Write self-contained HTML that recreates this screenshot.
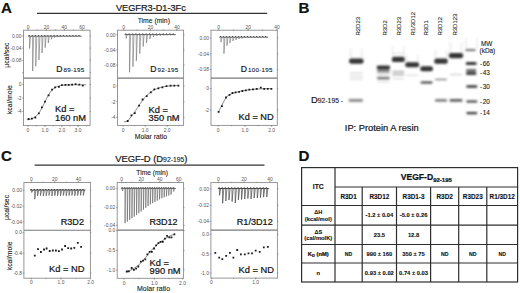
<!DOCTYPE html>
<html><head><meta charset="utf-8"><style>
html,body{margin:0;padding:0;background:#fff;}
svg{display:block;font-family:"Liberation Sans", sans-serif;}
text{stroke:#111;stroke-width:0.22px;}
text.t{stroke:none;}
text.s{stroke-width:0.1px;}
tspan.s{stroke-width:0.1px;}
</style></head><body>
<svg width="520" height="293" viewBox="0 0 520 293">
<defs><filter id="bl" x="-20%" y="-50%" width="140%" height="200%"><feGaussianBlur stdDeviation="1"/></filter>
<filter id="soft" x="0" y="0" width="520" height="293" filterUnits="userSpaceOnUse"><feConvolveMatrix order="3" kernelMatrix="1 2 1 2 20 2 1 2 1" divisor="32" edgeMode="duplicate"/></filter></defs>
<g>
<rect width="520" height="293" fill="#fff"/>
<text x="1.0" y="12.8" font-size="15.1" font-weight="bold" text-anchor="start" fill="#111" >A</text>
<line x1="37" y1="13.4" x2="267.2" y2="13.4" stroke="#333" stroke-width="1.2"/>
<text x="115.9" y="10.9" font-size="9.2" font-weight="normal" text-anchor="start" fill="#1a1a1a" >VEGFR3-D1-3Fc</text>
<text x="153.8" y="22.7" font-size="6.8" font-weight="normal" text-anchor="middle" fill="#222" class="s" >Time (min)</text>
<rect x="23.5" y="30.2" width="66.6" height="95.39999999999999" fill="none" stroke="#8c8c8c" stroke-width="0.9" />
<line x1="23.5" y1="78.1" x2="90.1" y2="78.1" stroke="#7a7a7a" stroke-width="1.1"/>
<text x="28.1" y="28.599999999999998" font-size="4.9" font-weight="normal" text-anchor="middle" fill="#555" class="t" >0</text>
<line x1="28.1" y1="28.9" x2="28.1" y2="30.599999999999998" stroke="#777" stroke-width="0.6"/>
<text x="46.4" y="28.599999999999998" font-size="4.9" font-weight="normal" text-anchor="middle" fill="#555" class="t" >20</text>
<line x1="46.4" y1="28.9" x2="46.4" y2="30.599999999999998" stroke="#777" stroke-width="0.6"/>
<text x="64.3" y="28.599999999999998" font-size="4.9" font-weight="normal" text-anchor="middle" fill="#555" class="t" >40</text>
<line x1="64.3" y1="28.9" x2="64.3" y2="30.599999999999998" stroke="#777" stroke-width="0.6"/>
<text x="82.1" y="28.599999999999998" font-size="4.9" font-weight="normal" text-anchor="middle" fill="#555" class="t" >60</text>
<line x1="82.1" y1="28.9" x2="82.1" y2="30.599999999999998" stroke="#777" stroke-width="0.6"/>
<text x="27.8" y="131.79999999999998" font-size="4.9" font-weight="normal" text-anchor="middle" fill="#555" class="t" >0</text>
<line x1="27.8" y1="125.19999999999999" x2="27.8" y2="126.89999999999999" stroke="#777" stroke-width="0.6"/>
<text x="45" y="131.79999999999998" font-size="4.9" font-weight="normal" text-anchor="middle" fill="#555" class="t" >1.0</text>
<line x1="45" y1="125.19999999999999" x2="45" y2="126.89999999999999" stroke="#777" stroke-width="0.6"/>
<text x="61.9" y="131.79999999999998" font-size="4.9" font-weight="normal" text-anchor="middle" fill="#555" class="t" >2.0</text>
<line x1="61.9" y1="125.19999999999999" x2="61.9" y2="126.89999999999999" stroke="#777" stroke-width="0.6"/>
<text x="78" y="131.79999999999998" font-size="4.9" font-weight="normal" text-anchor="middle" fill="#555" class="t" >3.0</text>
<line x1="78" y1="125.19999999999999" x2="78" y2="126.89999999999999" stroke="#777" stroke-width="0.6"/>
<line x1="37.2" y1="29.3" x2="37.2" y2="30.5" stroke="#777" stroke-width="0.5"/>
<line x1="46.3" y1="29.3" x2="46.3" y2="30.5" stroke="#777" stroke-width="0.5"/>
<line x1="55.4" y1="29.3" x2="55.4" y2="30.5" stroke="#777" stroke-width="0.5"/>
<line x1="64.5" y1="29.3" x2="64.5" y2="30.5" stroke="#777" stroke-width="0.5"/>
<line x1="73.6" y1="29.3" x2="73.6" y2="30.5" stroke="#777" stroke-width="0.5"/>
<line x1="82.7" y1="29.3" x2="82.7" y2="30.5" stroke="#777" stroke-width="0.5"/>
<line x1="36.4" y1="125.3" x2="36.4" y2="126.5" stroke="#777" stroke-width="0.5"/>
<line x1="44.8" y1="125.3" x2="44.8" y2="126.5" stroke="#777" stroke-width="0.5"/>
<line x1="53.2" y1="125.3" x2="53.2" y2="126.5" stroke="#777" stroke-width="0.5"/>
<line x1="61.6" y1="125.3" x2="61.6" y2="126.5" stroke="#777" stroke-width="0.5"/>
<line x1="70.0" y1="125.3" x2="70.0" y2="126.5" stroke="#777" stroke-width="0.5"/>
<line x1="78.4" y1="125.3" x2="78.4" y2="126.5" stroke="#777" stroke-width="0.5"/>
<line x1="86.8" y1="125.3" x2="86.8" y2="126.5" stroke="#777" stroke-width="0.5"/>
<text x="21.5" y="37.6" font-size="4.9" font-weight="normal" text-anchor="end" fill="#555" class="t" >0.00</text>
<line x1="22.2" y1="35.9" x2="23.9" y2="35.9" stroke="#777" stroke-width="0.6"/>
<line x1="89.69999999999999" y1="35.9" x2="91.1" y2="35.9" stroke="#777" stroke-width="0.6"/>
<text x="21.5" y="49.800000000000004" font-size="4.9" font-weight="normal" text-anchor="end" fill="#555" class="t" >-0.04</text>
<line x1="22.2" y1="48.1" x2="23.9" y2="48.1" stroke="#777" stroke-width="0.6"/>
<line x1="89.69999999999999" y1="48.1" x2="91.1" y2="48.1" stroke="#777" stroke-width="0.6"/>
<text x="21.5" y="62.0" font-size="4.9" font-weight="normal" text-anchor="end" fill="#555" class="t" >-0.08</text>
<line x1="22.2" y1="60.3" x2="23.9" y2="60.3" stroke="#777" stroke-width="0.6"/>
<line x1="89.69999999999999" y1="60.3" x2="91.1" y2="60.3" stroke="#777" stroke-width="0.6"/>
<text x="21.5" y="74.2" font-size="4.9" font-weight="normal" text-anchor="end" fill="#555" class="t" ></text>
<line x1="22.2" y1="72.5" x2="23.9" y2="72.5" stroke="#777" stroke-width="0.6"/>
<line x1="89.69999999999999" y1="72.5" x2="91.1" y2="72.5" stroke="#777" stroke-width="0.6"/>
<text x="21.5" y="86.2" font-size="4.9" font-weight="normal" text-anchor="end" fill="#555" class="t" >0</text>
<line x1="22.2" y1="84.5" x2="23.9" y2="84.5" stroke="#777" stroke-width="0.6"/>
<line x1="89.69999999999999" y1="84.5" x2="91.1" y2="84.5" stroke="#777" stroke-width="0.6"/>
<text x="21.5" y="99.9" font-size="4.9" font-weight="normal" text-anchor="end" fill="#555" class="t" >-2</text>
<line x1="22.2" y1="98.2" x2="23.9" y2="98.2" stroke="#777" stroke-width="0.6"/>
<line x1="89.69999999999999" y1="98.2" x2="91.1" y2="98.2" stroke="#777" stroke-width="0.6"/>
<text x="21.5" y="113.2" font-size="4.9" font-weight="normal" text-anchor="end" fill="#555" class="t" >-4</text>
<line x1="22.2" y1="111.5" x2="23.9" y2="111.5" stroke="#777" stroke-width="0.6"/>
<line x1="89.69999999999999" y1="111.5" x2="91.1" y2="111.5" stroke="#777" stroke-width="0.6"/>
<polyline points="27.90,36.20 28.90,36.20 29.15,35.20 29.40,36.20 32.02,36.20 32.27,35.20 32.52,36.20 35.14,36.20 35.39,35.20 35.64,36.20 38.26,36.20 38.51,35.20 38.76,36.20 41.38,36.20 41.63,35.20 41.88,36.20 44.50,36.20 44.75,35.20 45.00,36.20 47.62,36.20 47.87,35.20 48.12,36.20 50.74,36.20 50.99,35.20 51.24,36.20 53.86,36.20 54.11,35.20 54.36,36.20 56.98,36.20 57.23,35.20 57.48,36.20 60.10,36.20 60.35,35.20 60.60,36.20 63.22,36.20 63.47,35.20 63.72,36.20 66.34,36.20 66.59,35.20 66.84,36.20 69.46,36.20 69.71,35.20 69.96,36.20 72.58,36.20 72.83,35.20 73.08,36.20 75.70,36.20 75.95,35.20 76.20,36.20 78.82,36.20 79.07,35.20 79.32,36.20 81.52,36.20" fill="none" stroke="#2a2a2a" stroke-width="0.75" stroke-linejoin="round" />
<path d="M29.40,36.20 L29.55,48.50 L30.60,36.20 M32.52,36.20 L32.67,71.00 L33.72,36.20 M35.64,36.20 L35.79,66.20 L36.84,36.20 M38.76,36.20 L38.91,60.00 L39.96,36.20 M41.88,36.20 L42.03,53.00 L43.08,36.20 M45.00,36.20 L45.15,47.70 L46.20,36.20 M48.12,36.20 L48.27,43.00 L49.32,36.20 M51.24,36.20 L51.39,39.30 L52.44,36.20 M54.36,36.20 L54.51,37.60 L55.56,36.20 M57.48,36.20 L57.63,37.00 L58.68,36.20 M60.60,36.20 L60.75,36.80 L61.80,36.20 M63.72,36.20 L63.87,36.60 L64.92,36.20 M66.84,36.20 L66.99,36.50 L68.04,36.20 M69.96,36.20 L70.11,36.50 L71.16,36.20 M73.08,36.20 L73.23,36.40 L74.28,36.20 M76.20,36.20 L76.35,36.40 L77.40,36.20 M79.32,36.20 L79.47,36.40 L80.52,36.20 " fill="none" stroke="#666" stroke-width="0.55" stroke-linejoin="miter"/>
<polyline points="27.00,119.78 27.50,119.71 28.00,119.64 28.50,119.55 29.00,119.45 29.50,119.35 30.00,119.22 30.50,119.09 31.00,118.94 31.50,118.77 32.00,118.59 32.50,118.38 33.00,118.15 33.50,117.89 34.00,117.61 34.50,117.30 35.00,116.96 35.50,116.58 36.00,116.17 36.50,115.72 37.00,115.22 37.50,114.69 38.00,114.11 38.50,113.48 39.00,112.81 39.50,112.09 40.00,111.33 40.50,110.51 41.00,109.66 41.50,108.76 42.00,107.83 42.50,106.86 43.00,105.87 43.50,104.85 44.00,103.82 44.50,102.78 45.00,101.74 45.50,100.71 46.00,99.68 46.50,98.68 47.00,97.70 47.50,96.75 48.00,95.84 48.50,94.97 49.00,94.14 49.50,93.35 50.00,92.61 50.50,91.92 51.00,91.27 51.50,90.67 52.00,90.12 52.50,89.61 53.00,89.14 53.50,88.71 54.00,88.31 54.50,87.96 55.00,87.63 55.50,87.34 56.00,87.07 56.50,86.83 57.00,86.61 57.50,86.42 58.00,86.24 58.50,86.08 59.00,85.94 59.50,85.82 60.00,85.70 60.50,85.60 61.00,85.51 61.50,85.43 62.00,85.36 62.50,85.29 63.00,85.23 63.50,85.18 64.00,85.14 64.50,85.09 65.00,85.06 65.50,85.03 66.00,85.00 66.50,84.97 67.00,84.95 67.50,84.93 68.00,84.91 68.50,84.89 69.00,84.88 69.50,84.86 70.00,84.85 70.50,84.84 71.00,84.83 71.50,84.83 72.00,84.82 72.50,84.81 73.00,84.81 73.50,84.80 74.00,84.80 74.50,84.79 75.00,84.79 75.50,84.79 76.00,84.78 76.50,84.78 77.00,84.78 77.50,84.78 78.00,84.77 78.50,84.77 79.00,84.77 79.50,84.77 80.00,84.77 80.50,84.77 81.00,84.77 81.50,84.77 82.00,84.77 82.50,84.76 83.00,84.76 83.50,84.76 84.00,84.76 84.50,84.76 85.00,84.76 85.50,84.76 86.00,84.76" fill="none" stroke="#333" stroke-width="0.6" stroke-linejoin="round" />
<path d="M27.70,118.10h1.8v1.8h-1.8zM31.00,117.70h1.8v1.8h-1.8zM34.40,116.60h1.8v1.8h-1.8zM37.90,112.50h1.8v1.8h-1.8zM41.00,106.40h1.8v1.8h-1.8zM44.10,100.70h1.8v1.8h-1.8zM47.70,94.50h1.8v1.8h-1.8zM51.20,88.80h1.8v1.8h-1.8zM54.30,86.40h1.8v1.8h-1.8zM58.00,86.00h1.8v1.8h-1.8zM61.00,84.30h1.8v1.8h-1.8zM64.50,83.90h1.8v1.8h-1.8zM67.80,83.90h1.8v1.8h-1.8zM71.20,83.70h1.8v1.8h-1.8zM74.70,83.30h1.8v1.8h-1.8zM78.40,83.70h1.8v1.8h-1.8zM81.90,84.70h1.8v1.8h-1.8z" fill="#1a1a1a"/>
<text x="56.3" y="71.8" fill="#1a1a1a"><tspan font-size="8.6">D</tspan><tspan class="s" font-size="6.2" dx="1.0" letter-spacing="0.3">89-195</tspan></text>
<text x="55.0" y="112.4" font-size="9.3" font-weight="normal" text-anchor="start" fill="#111" >Kd =</text>
<text x="55.0" y="120.8" font-size="9.3" font-weight="normal" text-anchor="start" fill="#111" >160 nM</text>
<rect x="117.5" y="30.2" width="66.1" height="95.2" fill="none" stroke="#8c8c8c" stroke-width="0.9" />
<line x1="117.5" y1="78.1" x2="183.6" y2="78.1" stroke="#7a7a7a" stroke-width="1.1"/>
<text x="123.6" y="28.599999999999998" font-size="4.9" font-weight="normal" text-anchor="middle" fill="#555" class="t" >0</text>
<line x1="123.6" y1="28.9" x2="123.6" y2="30.599999999999998" stroke="#777" stroke-width="0.6"/>
<text x="150.4" y="28.599999999999998" font-size="4.9" font-weight="normal" text-anchor="middle" fill="#555" class="t" >20</text>
<line x1="150.4" y1="28.9" x2="150.4" y2="30.599999999999998" stroke="#777" stroke-width="0.6"/>
<text x="177" y="28.599999999999998" font-size="4.9" font-weight="normal" text-anchor="middle" fill="#555" class="t" >40</text>
<line x1="177" y1="28.9" x2="177" y2="30.599999999999998" stroke="#777" stroke-width="0.6"/>
<text x="123.2" y="131.6" font-size="4.9" font-weight="normal" text-anchor="middle" fill="#555" class="t" >0</text>
<line x1="123.2" y1="125.0" x2="123.2" y2="126.7" stroke="#777" stroke-width="0.6"/>
<text x="145.2" y="131.6" font-size="4.9" font-weight="normal" text-anchor="middle" fill="#555" class="t" >1.0</text>
<line x1="145.2" y1="125.0" x2="145.2" y2="126.7" stroke="#777" stroke-width="0.6"/>
<text x="167.2" y="131.6" font-size="4.9" font-weight="normal" text-anchor="middle" fill="#555" class="t" >2.0</text>
<line x1="167.2" y1="125.0" x2="167.2" y2="126.7" stroke="#777" stroke-width="0.6"/>
<line x1="137" y1="29.3" x2="137" y2="30.5" stroke="#777" stroke-width="0.5"/>
<line x1="150.3" y1="29.3" x2="150.3" y2="30.5" stroke="#777" stroke-width="0.5"/>
<line x1="163.6" y1="29.3" x2="163.6" y2="30.5" stroke="#777" stroke-width="0.5"/>
<line x1="176.9" y1="29.3" x2="176.9" y2="30.5" stroke="#777" stroke-width="0.5"/>
<line x1="134.2" y1="125.10000000000001" x2="134.2" y2="126.30000000000001" stroke="#777" stroke-width="0.5"/>
<line x1="145.2" y1="125.10000000000001" x2="145.2" y2="126.30000000000001" stroke="#777" stroke-width="0.5"/>
<line x1="156.2" y1="125.10000000000001" x2="156.2" y2="126.30000000000001" stroke="#777" stroke-width="0.5"/>
<line x1="167.2" y1="125.10000000000001" x2="167.2" y2="126.30000000000001" stroke="#777" stroke-width="0.5"/>
<line x1="178.2" y1="125.10000000000001" x2="178.2" y2="126.30000000000001" stroke="#777" stroke-width="0.5"/>
<text x="115.5" y="36.5" font-size="4.9" font-weight="normal" text-anchor="end" fill="#555" class="t" >0.00</text>
<line x1="116.2" y1="34.8" x2="117.9" y2="34.8" stroke="#777" stroke-width="0.6"/>
<line x1="183.2" y1="34.8" x2="184.6" y2="34.8" stroke="#777" stroke-width="0.6"/>
<text x="115.5" y="51.6" font-size="4.9" font-weight="normal" text-anchor="end" fill="#555" class="t" >-0.04</text>
<line x1="116.2" y1="49.9" x2="117.9" y2="49.9" stroke="#777" stroke-width="0.6"/>
<line x1="183.2" y1="49.9" x2="184.6" y2="49.9" stroke="#777" stroke-width="0.6"/>
<text x="115.5" y="66.60000000000001" font-size="4.9" font-weight="normal" text-anchor="end" fill="#555" class="t" >-0.08</text>
<line x1="116.2" y1="64.9" x2="117.9" y2="64.9" stroke="#777" stroke-width="0.6"/>
<line x1="183.2" y1="64.9" x2="184.6" y2="64.9" stroke="#777" stroke-width="0.6"/>
<text x="115.5" y="87.9" font-size="4.9" font-weight="normal" text-anchor="end" fill="#555" class="t" >0</text>
<line x1="116.2" y1="86.2" x2="117.9" y2="86.2" stroke="#777" stroke-width="0.6"/>
<line x1="183.2" y1="86.2" x2="184.6" y2="86.2" stroke="#777" stroke-width="0.6"/>
<text x="115.5" y="103.5" font-size="4.9" font-weight="normal" text-anchor="end" fill="#555" class="t" >-2</text>
<line x1="116.2" y1="101.8" x2="117.9" y2="101.8" stroke="#777" stroke-width="0.6"/>
<line x1="183.2" y1="101.8" x2="184.6" y2="101.8" stroke="#777" stroke-width="0.6"/>
<text x="115.5" y="119.10000000000001" font-size="4.9" font-weight="normal" text-anchor="end" fill="#555" class="t" >-4</text>
<line x1="116.2" y1="117.4" x2="117.9" y2="117.4" stroke="#777" stroke-width="0.6"/>
<line x1="183.2" y1="117.4" x2="184.6" y2="117.4" stroke="#777" stroke-width="0.6"/>
<polyline points="124.50,34.60 125.50,34.60 125.75,33.60 126.00,34.60 128.90,34.60 129.15,33.60 129.40,34.60 132.30,34.60 132.55,33.60 132.80,34.60 135.70,34.60 135.95,33.60 136.20,34.60 139.10,34.60 139.35,33.60 139.60,34.60 142.50,34.60 142.75,33.60 143.00,34.60 145.90,34.60 146.15,33.60 146.40,34.60 149.30,34.60 149.55,33.60 149.80,34.60 152.70,34.60 152.95,33.60 153.20,34.60 156.10,34.60 156.35,33.60 156.60,34.60 159.50,34.60 159.75,33.60 160.00,34.60 162.90,34.60 163.15,33.60 163.40,34.60 166.30,34.60 166.55,33.60 166.80,34.60 169.70,34.60 169.95,33.60 170.20,34.60 173.10,34.60 173.35,33.60 173.60,34.60 175.80,34.60" fill="none" stroke="#2a2a2a" stroke-width="0.75" stroke-linejoin="round" />
<path d="M126.00,34.60 L126.15,38.60 L127.20,34.60 M129.40,34.60 L129.55,72.30 L130.60,34.60 M132.80,34.60 L132.95,66.70 L134.00,34.60 M136.20,34.60 L136.35,60.80 L137.40,34.60 M139.60,34.60 L139.75,53.70 L140.80,34.60 M143.00,34.60 L143.15,46.60 L144.20,34.60 M146.40,34.60 L146.55,43.00 L147.60,34.60 M149.80,34.60 L149.95,39.00 L151.00,34.60 M153.20,34.60 L153.35,37.00 L154.40,34.60 M156.60,34.60 L156.75,36.00 L157.80,34.60 M160.00,34.60 L160.15,35.60 L161.20,34.60 M163.40,34.60 L163.55,35.30 L164.60,34.60 M166.80,34.60 L166.95,35.10 L168.00,34.60 M170.20,34.60 L170.35,35.00 L171.40,34.60 M173.60,34.60 L173.75,35.00 L174.80,34.60 " fill="none" stroke="#666" stroke-width="0.55" stroke-linejoin="miter"/>
<polyline points="123.80,121.80 124.21,121.74 124.79,121.70 125.46,121.64 126.19,121.51 126.92,121.27 127.60,120.90 128.24,120.35 128.87,119.65 129.51,118.84 130.15,117.99 130.78,117.12 131.40,116.30 132.01,115.53 132.60,114.76 133.19,113.99 133.78,113.20 134.38,112.37 135.00,111.50 135.64,110.57 136.30,109.58 136.97,108.56 137.65,107.52 138.33,106.50 139.00,105.50 139.67,104.52 140.33,103.53 141.00,102.56 141.67,101.60 142.33,100.68 143.00,99.80 143.67,98.97 144.33,98.17 145.00,97.41 145.67,96.67 146.33,95.97 147.00,95.30 147.67,94.66 148.33,94.05 149.00,93.47 149.67,92.92 150.33,92.40 151.00,91.90 151.67,91.43 152.33,91.00 153.00,90.59 153.67,90.20 154.33,89.84 155.00,89.50 155.67,89.18 156.33,88.89 157.00,88.61 157.67,88.36 158.33,88.12 159.00,87.90 159.66,87.70 160.30,87.51 160.94,87.35 161.59,87.20 162.28,87.05 163.00,86.90 163.76,86.75 164.56,86.60 165.38,86.46 166.22,86.33 167.10,86.21 168.00,86.10 168.95,86.01 169.96,85.93 171.00,85.86 172.04,85.80 173.05,85.74 174.00,85.70 174.95,85.66 175.93,85.64 176.88,85.62 177.74,85.61 178.47,85.61 179.00,85.60" fill="none" stroke="#333" stroke-width="0.6" stroke-linejoin="round" />
<path d="M126.80,120.10h1.8v1.8h-1.8zM130.50,114.40h1.8v1.8h-1.8zM133.90,112.30h1.8v1.8h-1.8zM138.20,104.80h1.8v1.8h-1.8zM141.70,98.60h1.8v1.8h-1.8zM145.80,95.20h1.8v1.8h-1.8zM149.90,91.50h1.8v1.8h-1.8zM153.40,88.40h1.8v1.8h-1.8zM157.50,87.40h1.8v1.8h-1.8zM161.50,86.40h1.8v1.8h-1.8zM165.60,85.30h1.8v1.8h-1.8zM169.70,84.70h1.8v1.8h-1.8zM173.40,84.70h1.8v1.8h-1.8zM177.50,84.70h1.8v1.8h-1.8z" fill="#1a1a1a"/>
<text x="150.2" y="71.8" fill="#1a1a1a"><tspan font-size="8.6">D</tspan><tspan class="s" font-size="6.2" dx="1.0" letter-spacing="0.3">92-195</tspan></text>
<text x="148.6" y="112.5" font-size="9.3" font-weight="normal" text-anchor="start" fill="#111" >Kd =</text>
<text x="148.6" y="120.8" font-size="9.3" font-weight="normal" text-anchor="start" fill="#111" >350 nM</text>
<text x="150.9" y="139.3" font-size="6.8" font-weight="normal" text-anchor="middle" fill="#222" class="s" >Molar ratio</text>
<rect x="211.0" y="30.2" width="66.30000000000001" height="95.2" fill="none" stroke="#8c8c8c" stroke-width="0.9" />
<line x1="211.0" y1="78.1" x2="277.3" y2="78.1" stroke="#7a7a7a" stroke-width="1.1"/>
<text x="218.7" y="28.599999999999998" font-size="4.9" font-weight="normal" text-anchor="middle" fill="#555" class="t" >0</text>
<line x1="218.7" y1="28.9" x2="218.7" y2="30.599999999999998" stroke="#777" stroke-width="0.6"/>
<text x="248.2" y="28.599999999999998" font-size="4.9" font-weight="normal" text-anchor="middle" fill="#555" class="t" >20</text>
<line x1="248.2" y1="28.9" x2="248.2" y2="30.599999999999998" stroke="#777" stroke-width="0.6"/>
<text x="277" y="28.599999999999998" font-size="4.9" font-weight="normal" text-anchor="middle" fill="#555" class="t" >40</text>
<line x1="277" y1="28.9" x2="277" y2="30.599999999999998" stroke="#777" stroke-width="0.6"/>
<text x="218.2" y="131.6" font-size="4.9" font-weight="normal" text-anchor="middle" fill="#555" class="t" >0</text>
<line x1="218.2" y1="125.0" x2="218.2" y2="126.7" stroke="#777" stroke-width="0.6"/>
<text x="245" y="131.6" font-size="4.9" font-weight="normal" text-anchor="middle" fill="#555" class="t" >1.0</text>
<line x1="245" y1="125.0" x2="245" y2="126.7" stroke="#777" stroke-width="0.6"/>
<text x="271.6" y="131.6" font-size="4.9" font-weight="normal" text-anchor="middle" fill="#555" class="t" >2.0</text>
<line x1="271.6" y1="125.0" x2="271.6" y2="126.7" stroke="#777" stroke-width="0.6"/>
<line x1="233.5" y1="29.3" x2="233.5" y2="30.5" stroke="#777" stroke-width="0.5"/>
<line x1="248.0" y1="29.3" x2="248.0" y2="30.5" stroke="#777" stroke-width="0.5"/>
<line x1="262.5" y1="29.3" x2="262.5" y2="30.5" stroke="#777" stroke-width="0.5"/>
<line x1="277.0" y1="29.3" x2="277.0" y2="30.5" stroke="#777" stroke-width="0.5"/>
<line x1="231.6" y1="125.10000000000001" x2="231.6" y2="126.30000000000001" stroke="#777" stroke-width="0.5"/>
<line x1="245.0" y1="125.10000000000001" x2="245.0" y2="126.30000000000001" stroke="#777" stroke-width="0.5"/>
<line x1="258.4" y1="125.10000000000001" x2="258.4" y2="126.30000000000001" stroke="#777" stroke-width="0.5"/>
<line x1="271.8" y1="125.10000000000001" x2="271.8" y2="126.30000000000001" stroke="#777" stroke-width="0.5"/>
<text x="209.0" y="39.7" font-size="4.9" font-weight="normal" text-anchor="end" fill="#555" class="t" >0.00</text>
<line x1="209.7" y1="38" x2="211.4" y2="38" stroke="#777" stroke-width="0.6"/>
<line x1="276.90000000000003" y1="38" x2="278.3" y2="38" stroke="#777" stroke-width="0.6"/>
<text x="209.0" y="55.5" font-size="4.9" font-weight="normal" text-anchor="end" fill="#555" class="t" >-0.04</text>
<line x1="209.7" y1="53.8" x2="211.4" y2="53.8" stroke="#777" stroke-width="0.6"/>
<line x1="276.90000000000003" y1="53.8" x2="278.3" y2="53.8" stroke="#777" stroke-width="0.6"/>
<text x="209.0" y="71.3" font-size="4.9" font-weight="normal" text-anchor="end" fill="#555" class="t" >-0.08</text>
<line x1="209.7" y1="69.6" x2="211.4" y2="69.6" stroke="#777" stroke-width="0.6"/>
<line x1="276.90000000000003" y1="69.6" x2="278.3" y2="69.6" stroke="#777" stroke-width="0.6"/>
<text x="209.0" y="90.3" font-size="4.9" font-weight="normal" text-anchor="end" fill="#555" class="t" >0</text>
<line x1="209.7" y1="88.6" x2="211.4" y2="88.6" stroke="#777" stroke-width="0.6"/>
<line x1="276.90000000000003" y1="88.6" x2="278.3" y2="88.6" stroke="#777" stroke-width="0.6"/>
<text x="209.0" y="111.7" font-size="4.9" font-weight="normal" text-anchor="end" fill="#555" class="t" >-2</text>
<line x1="209.7" y1="110" x2="211.4" y2="110" stroke="#777" stroke-width="0.6"/>
<line x1="276.90000000000003" y1="110" x2="278.3" y2="110" stroke="#777" stroke-width="0.6"/>
<polyline points="219.30,37.20 220.30,37.20 220.55,36.20 220.80,37.20 223.30,37.20 223.55,36.20 223.80,37.20 226.30,37.20 226.55,36.20 226.80,37.20 229.30,37.20 229.55,36.20 229.80,37.20 232.30,37.20 232.55,36.20 232.80,37.20 235.30,37.20 235.55,36.20 235.80,37.20 238.30,37.20 238.55,36.20 238.80,37.20 241.30,37.20 241.55,36.20 241.80,37.20 244.30,37.20 244.55,36.20 244.80,37.20 247.30,37.20 247.55,36.20 247.80,37.20 250.30,37.20 250.55,36.20 250.80,37.20 253.30,37.20 253.55,36.20 253.80,37.20 256.30,37.20 256.55,36.20 256.80,37.20 259.30,37.20 259.55,36.20 259.80,37.20 262.30,37.20 262.55,36.20 262.80,37.20 265.30,37.20 265.55,36.20 265.80,37.20 268.00,37.20" fill="none" stroke="#2a2a2a" stroke-width="0.75" stroke-linejoin="round" />
<path d="M220.80,37.20 L220.95,42.20 L222.00,37.20 M223.80,37.20 L223.95,53.70 L225.00,37.20 M226.80,37.20 L226.95,45.70 L228.00,37.20 M229.80,37.20 L229.95,43.00 L231.00,37.20 M232.80,37.20 L232.95,41.00 L234.00,37.20 M235.80,37.20 L235.95,40.00 L237.00,37.20 M238.80,37.20 L238.95,39.00 L240.00,37.20 M241.80,37.20 L241.95,38.50 L243.00,37.20 M244.80,37.20 L244.95,38.00 L246.00,37.20 M247.80,37.20 L247.95,37.80 L249.00,37.20 M250.80,37.20 L250.95,37.60 L252.00,37.20 M253.80,37.20 L253.95,37.50 L255.00,37.20 M256.80,37.20 L256.95,37.40 L258.00,37.20 M259.80,37.20 L259.95,37.40 L261.00,37.20 M262.80,37.20 L262.95,37.30 L264.00,37.20 M265.80,37.20 L265.95,37.30 L267.00,37.20 " fill="none" stroke="#666" stroke-width="0.55" stroke-linejoin="miter"/>
<polyline points="218.60,111.80 218.96,111.06 219.46,110.05 220.05,108.85 220.70,107.55 221.36,106.24 222.00,105.00 222.63,103.78 223.29,102.49 223.96,101.18 224.64,99.93 225.33,98.78 226.00,97.80 226.64,97.01 227.26,96.37 227.88,95.83 228.52,95.37 229.22,94.94 230.00,94.50 230.85,94.08 231.74,93.71 232.69,93.37 233.70,93.05 234.80,92.73 236.00,92.40 237.31,92.05 238.74,91.70 240.25,91.34 241.81,91.00 243.41,90.69 245.00,90.40 246.61,90.15 248.26,89.91 249.94,89.71 251.63,89.52 253.32,89.35 255.00,89.20 256.70,89.07 258.44,88.97 260.19,88.88 261.89,88.81 263.51,88.75 265.00,88.70 266.42,88.66 267.81,88.63 269.12,88.62 270.30,88.61 271.27,88.61 272.00,88.60" fill="none" stroke="#333" stroke-width="0.6" stroke-linejoin="round" />
<path d="M217.70,110.90h1.8v1.8h-1.8zM221.00,105.20h1.8v1.8h-1.8zM225.10,96.60h1.8v1.8h-1.8zM228.60,93.90h1.8v1.8h-1.8zM231.60,92.10h1.8v1.8h-1.8zM234.70,91.50h1.8v1.8h-1.8zM238.20,90.90h1.8v1.8h-1.8zM241.50,90.10h1.8v1.8h-1.8zM244.90,89.40h1.8v1.8h-1.8zM248.40,88.80h1.8v1.8h-1.8zM252.10,88.40h1.8v1.8h-1.8zM255.80,88.00h1.8v1.8h-1.8zM259.90,86.80h1.8v1.8h-1.8zM263.30,88.00h1.8v1.8h-1.8zM266.80,88.00h1.8v1.8h-1.8zM270.50,88.00h1.8v1.8h-1.8z" fill="#1a1a1a"/>
<text x="240.8" y="71.8" fill="#1a1a1a"><tspan font-size="8.6">D</tspan><tspan class="s" font-size="6.2" dx="1.0" letter-spacing="0.3">100-195</tspan></text>
<text x="238.6" y="119.9" font-size="9.2" font-weight="normal" text-anchor="start" fill="#111" >Kd = ND</text>
<text x="0" y="0" font-size="6.8" font-weight="normal" text-anchor="middle" fill="#222" class="s" transform="translate(8.7,55.1) rotate(-90)">µcal/sec</text>
<text x="0" y="0" font-size="6.9" font-weight="normal" text-anchor="middle" fill="#222" class="s" transform="translate(12.3,99.6) rotate(-90)">kcal/mole</text>
<text x="0" y="0" font-size="6.8" font-weight="normal" text-anchor="middle" fill="#222" class="s" transform="translate(8.9,207.5) rotate(-90)">µcal/sec</text>
<text x="0" y="0" font-size="6.8" font-weight="normal" text-anchor="middle" fill="#222" class="s" transform="translate(12.2,255.9) rotate(-90)">kcal/mole</text>
<text x="1.0" y="161.0" font-size="15.1" font-weight="bold" text-anchor="start" fill="#111" >C</text>
<line x1="34.6" y1="165.2" x2="264.5" y2="165.2" stroke="#333" stroke-width="1.2"/>
<text x="151.3" y="161.9" text-anchor="middle" fill="#1a1a1a" font-size="9.4">VEGF-D (<tspan>D</tspan><tspan class="s" font-size="6.8">92-195</tspan>)</text>
<text x="152.2" y="174.7" font-size="6.7" font-weight="normal" text-anchor="middle" fill="#222" class="s" >Time (min)</text>
<rect x="23.9" y="182.5" width="66.5" height="95.69999999999999" fill="none" stroke="#8c8c8c" stroke-width="0.9" />
<line x1="23.9" y1="230.3" x2="90.4" y2="230.3" stroke="#7a7a7a" stroke-width="1.1"/>
<text x="31.3" y="180.9" font-size="4.9" font-weight="normal" text-anchor="middle" fill="#555" class="t" >0</text>
<line x1="31.3" y1="181.2" x2="31.3" y2="182.9" stroke="#777" stroke-width="0.6"/>
<text x="54.8" y="180.9" font-size="4.9" font-weight="normal" text-anchor="middle" fill="#555" class="t" >20</text>
<line x1="54.8" y1="181.2" x2="54.8" y2="182.9" stroke="#777" stroke-width="0.6"/>
<text x="78.4" y="180.9" font-size="4.9" font-weight="normal" text-anchor="middle" fill="#555" class="t" >40</text>
<line x1="78.4" y1="181.2" x2="78.4" y2="182.9" stroke="#777" stroke-width="0.6"/>
<text x="31.3" y="284.4" font-size="4.9" font-weight="normal" text-anchor="middle" fill="#555" class="t" >0</text>
<line x1="31.3" y1="277.8" x2="31.3" y2="279.5" stroke="#777" stroke-width="0.6"/>
<text x="61" y="284.4" font-size="4.9" font-weight="normal" text-anchor="middle" fill="#555" class="t" >1.0</text>
<line x1="61" y1="277.8" x2="61" y2="279.5" stroke="#777" stroke-width="0.6"/>
<text x="90.6" y="284.4" font-size="4.9" font-weight="normal" text-anchor="middle" fill="#555" class="t" >2.0</text>
<line x1="90.6" y1="277.8" x2="90.6" y2="279.5" stroke="#777" stroke-width="0.6"/>
<line x1="43" y1="181.6" x2="43" y2="182.8" stroke="#777" stroke-width="0.5"/>
<line x1="54.75" y1="181.6" x2="54.75" y2="182.8" stroke="#777" stroke-width="0.5"/>
<line x1="66.5" y1="181.6" x2="66.5" y2="182.8" stroke="#777" stroke-width="0.5"/>
<line x1="78.25" y1="181.6" x2="78.25" y2="182.8" stroke="#777" stroke-width="0.5"/>
<line x1="90.0" y1="181.6" x2="90.0" y2="182.8" stroke="#777" stroke-width="0.5"/>
<line x1="46.2" y1="277.9" x2="46.2" y2="279.09999999999997" stroke="#777" stroke-width="0.5"/>
<line x1="61.0" y1="277.9" x2="61.0" y2="279.09999999999997" stroke="#777" stroke-width="0.5"/>
<line x1="75.8" y1="277.9" x2="75.8" y2="279.09999999999997" stroke="#777" stroke-width="0.5"/>
<text x="21.9" y="192.1" font-size="4.9" font-weight="normal" text-anchor="end" fill="#555" class="t" >0.00</text>
<line x1="22.599999999999998" y1="190.4" x2="24.299999999999997" y2="190.4" stroke="#777" stroke-width="0.6"/>
<line x1="90.0" y1="190.4" x2="91.4" y2="190.4" stroke="#777" stroke-width="0.6"/>
<text x="21.9" y="208.0" font-size="4.9" font-weight="normal" text-anchor="end" fill="#555" class="t" >-0.02</text>
<line x1="22.599999999999998" y1="206.3" x2="24.299999999999997" y2="206.3" stroke="#777" stroke-width="0.6"/>
<line x1="90.0" y1="206.3" x2="91.4" y2="206.3" stroke="#777" stroke-width="0.6"/>
<text x="21.9" y="223.5" font-size="4.9" font-weight="normal" text-anchor="end" fill="#555" class="t" >-0.04</text>
<line x1="22.599999999999998" y1="221.8" x2="24.299999999999997" y2="221.8" stroke="#777" stroke-width="0.6"/>
<line x1="90.0" y1="221.8" x2="91.4" y2="221.8" stroke="#777" stroke-width="0.6"/>
<text x="21.9" y="234.29999999999998" font-size="4.9" font-weight="normal" text-anchor="end" fill="#555" class="t" >0.0</text>
<line x1="22.599999999999998" y1="232.6" x2="24.299999999999997" y2="232.6" stroke="#777" stroke-width="0.6"/>
<line x1="90.0" y1="232.6" x2="91.4" y2="232.6" stroke="#777" stroke-width="0.6"/>
<text x="21.9" y="254.89999999999998" font-size="4.9" font-weight="normal" text-anchor="end" fill="#555" class="t" >-0.4</text>
<line x1="22.599999999999998" y1="253.2" x2="24.299999999999997" y2="253.2" stroke="#777" stroke-width="0.6"/>
<line x1="90.0" y1="253.2" x2="91.4" y2="253.2" stroke="#777" stroke-width="0.6"/>
<text x="21.9" y="274.8" font-size="4.9" font-weight="normal" text-anchor="end" fill="#555" class="t" >-0.8</text>
<line x1="22.599999999999998" y1="273.1" x2="24.299999999999997" y2="273.1" stroke="#777" stroke-width="0.6"/>
<line x1="90.0" y1="273.1" x2="91.4" y2="273.1" stroke="#777" stroke-width="0.6"/>
<polyline points="30.10,190.10 31.10,190.10 31.35,189.10 31.60,190.10 34.10,190.10 34.35,189.10 34.60,190.10 36.96,190.10 37.21,189.10 37.46,190.10 39.82,190.10 40.07,189.10 40.32,190.10 42.68,190.10 42.93,189.10 43.18,190.10 45.54,190.10 45.79,189.10 46.04,190.10 48.40,190.10 48.65,189.10 48.90,190.10 51.26,190.10 51.51,189.10 51.76,190.10 54.12,190.10 54.37,189.10 54.62,190.10 56.98,190.10 57.23,189.10 57.48,190.10 59.84,190.10 60.09,189.10 60.34,190.10 62.70,190.10 62.95,189.10 63.20,190.10 65.56,190.10 65.81,189.10 66.06,190.10 68.42,190.10 68.67,189.10 68.92,190.10 71.28,190.10 71.53,189.10 71.78,190.10 74.14,190.10 74.39,189.10 74.64,190.10 77.00,190.10 77.25,189.10 77.50,190.10 79.86,190.10 80.11,189.10 80.36,190.10 82.72,190.10 82.97,189.10 83.22,190.10 85.42,190.10" fill="none" stroke="#2a2a2a" stroke-width="0.9" stroke-linejoin="round" />
<path d="M31.60,190.10 L31.75,192.50 L32.90,190.10 M34.60,190.10 L34.75,199.20 L35.90,190.10 M37.46,190.10 L37.61,195.90 L38.76,190.10 M40.32,190.10 L40.47,195.60 L41.62,190.10 M43.18,190.10 L43.33,196.00 L44.48,190.10 M46.04,190.10 L46.19,195.80 L47.34,190.10 M48.90,190.10 L49.05,195.50 L50.20,190.10 M51.76,190.10 L51.91,196.00 L53.06,190.10 M54.62,190.10 L54.77,195.70 L55.92,190.10 M57.48,190.10 L57.63,195.60 L58.78,190.10 M60.34,190.10 L60.49,195.90 L61.64,190.10 M63.20,190.10 L63.35,195.50 L64.50,190.10 M66.06,190.10 L66.21,195.80 L67.36,190.10 M68.92,190.10 L69.07,195.60 L70.22,190.10 M71.78,190.10 L71.93,195.40 L73.08,190.10 M74.64,190.10 L74.79,195.80 L75.94,190.10 M77.50,190.10 L77.65,195.50 L78.80,190.10 M80.36,190.10 L80.51,195.30 L81.66,190.10 M83.22,190.10 L83.37,195.50 L84.52,190.10 " fill="none" stroke="#555" stroke-width="0.7" stroke-linejoin="miter"/>
<path d="M33.90,254.80h1.8v1.8h-1.8zM37.10,248.20h1.8v1.8h-1.8zM40.00,251.10h1.8v1.8h-1.8zM43.10,248.60h1.8v1.8h-1.8zM45.70,247.60h1.8v1.8h-1.8zM48.80,250.10h1.8v1.8h-1.8zM51.90,249.60h1.8v1.8h-1.8zM55.00,249.60h1.8v1.8h-1.8zM58.00,250.30h1.8v1.8h-1.8zM61.10,248.60h1.8v1.8h-1.8zM64.20,245.10h1.8v1.8h-1.8zM67.30,247.20h1.8v1.8h-1.8zM70.30,247.60h1.8v1.8h-1.8zM73.40,247.00h1.8v1.8h-1.8zM76.90,241.90h1.8v1.8h-1.8zM80.20,246.00h1.8v1.8h-1.8z" fill="#1a1a1a"/>
<text x="60.7" y="224.8" font-size="9.1" font-weight="normal" text-anchor="start" fill="#111" >R3D2</text>
<text x="49.0" y="272.0" font-size="9.3" font-weight="normal" text-anchor="start" fill="#111" >Kd = ND</text>
<rect x="117.2" y="182.5" width="66.39999999999999" height="95.80000000000001" fill="none" stroke="#8c8c8c" stroke-width="0.9" />
<line x1="117.2" y1="230.1" x2="183.6" y2="230.1" stroke="#7a7a7a" stroke-width="1.1"/>
<text x="121.6" y="180.9" font-size="4.9" font-weight="normal" text-anchor="middle" fill="#555" class="t" >0</text>
<line x1="121.6" y1="181.2" x2="121.6" y2="182.9" stroke="#777" stroke-width="0.6"/>
<text x="141.2" y="180.9" font-size="4.9" font-weight="normal" text-anchor="middle" fill="#555" class="t" >20</text>
<line x1="141.2" y1="181.2" x2="141.2" y2="182.9" stroke="#777" stroke-width="0.6"/>
<text x="159.8" y="180.9" font-size="4.9" font-weight="normal" text-anchor="middle" fill="#555" class="t" >40</text>
<line x1="159.8" y1="181.2" x2="159.8" y2="182.9" stroke="#777" stroke-width="0.6"/>
<text x="178.7" y="180.9" font-size="4.9" font-weight="normal" text-anchor="middle" fill="#555" class="t" >60</text>
<line x1="178.7" y1="181.2" x2="178.7" y2="182.9" stroke="#777" stroke-width="0.6"/>
<text x="124" y="284.5" font-size="4.9" font-weight="normal" text-anchor="middle" fill="#555" class="t" >0</text>
<line x1="124" y1="277.90000000000003" x2="124" y2="279.6" stroke="#777" stroke-width="0.6"/>
<text x="154.3" y="284.5" font-size="4.9" font-weight="normal" text-anchor="middle" fill="#555" class="t" >1.0</text>
<line x1="154.3" y1="277.90000000000003" x2="154.3" y2="279.6" stroke="#777" stroke-width="0.6"/>
<text x="182.5" y="284.5" font-size="4.9" font-weight="normal" text-anchor="middle" fill="#555" class="t" >2.0</text>
<line x1="182.5" y1="277.90000000000003" x2="182.5" y2="279.6" stroke="#777" stroke-width="0.6"/>
<line x1="131.4" y1="181.6" x2="131.4" y2="182.8" stroke="#777" stroke-width="0.5"/>
<line x1="140.9" y1="181.6" x2="140.9" y2="182.8" stroke="#777" stroke-width="0.5"/>
<line x1="150.4" y1="181.6" x2="150.4" y2="182.8" stroke="#777" stroke-width="0.5"/>
<line x1="159.9" y1="181.6" x2="159.9" y2="182.8" stroke="#777" stroke-width="0.5"/>
<line x1="169.4" y1="181.6" x2="169.4" y2="182.8" stroke="#777" stroke-width="0.5"/>
<line x1="178.9" y1="181.6" x2="178.9" y2="182.8" stroke="#777" stroke-width="0.5"/>
<line x1="139" y1="278.0" x2="139" y2="279.2" stroke="#777" stroke-width="0.5"/>
<line x1="154" y1="278.0" x2="154" y2="279.2" stroke="#777" stroke-width="0.5"/>
<line x1="169" y1="278.0" x2="169" y2="279.2" stroke="#777" stroke-width="0.5"/>
<text x="115.2" y="190.29999999999998" font-size="4.9" font-weight="normal" text-anchor="end" fill="#555" class="t" >0.00</text>
<line x1="115.9" y1="188.6" x2="117.60000000000001" y2="188.6" stroke="#777" stroke-width="0.6"/>
<line x1="183.2" y1="188.6" x2="184.6" y2="188.6" stroke="#777" stroke-width="0.6"/>
<text x="115.2" y="209.39999999999998" font-size="4.9" font-weight="normal" text-anchor="end" fill="#555" class="t" >-0.02</text>
<line x1="115.9" y1="207.7" x2="117.60000000000001" y2="207.7" stroke="#777" stroke-width="0.6"/>
<line x1="183.2" y1="207.7" x2="184.6" y2="207.7" stroke="#777" stroke-width="0.6"/>
<text x="115.2" y="227.0" font-size="4.9" font-weight="normal" text-anchor="end" fill="#555" class="t" >-0.04</text>
<line x1="115.9" y1="225.3" x2="117.60000000000001" y2="225.3" stroke="#777" stroke-width="0.6"/>
<line x1="183.2" y1="225.3" x2="184.6" y2="225.3" stroke="#777" stroke-width="0.6"/>
<text x="115.2" y="232.29999999999998" font-size="4.9" font-weight="normal" text-anchor="end" fill="#555" class="t" >0.0</text>
<line x1="115.9" y1="230.6" x2="117.60000000000001" y2="230.6" stroke="#777" stroke-width="0.6"/>
<line x1="183.2" y1="230.6" x2="184.6" y2="230.6" stroke="#777" stroke-width="0.6"/>
<text x="115.2" y="252.2" font-size="4.9" font-weight="normal" text-anchor="end" fill="#555" class="t" >-0.5</text>
<line x1="115.9" y1="250.5" x2="117.60000000000001" y2="250.5" stroke="#777" stroke-width="0.6"/>
<line x1="183.2" y1="250.5" x2="184.6" y2="250.5" stroke="#777" stroke-width="0.6"/>
<text x="115.2" y="271.9" font-size="4.9" font-weight="normal" text-anchor="end" fill="#555" class="t" >-1.0</text>
<line x1="115.9" y1="270.2" x2="117.60000000000001" y2="270.2" stroke="#777" stroke-width="0.6"/>
<line x1="183.2" y1="270.2" x2="184.6" y2="270.2" stroke="#777" stroke-width="0.6"/>
<polyline points="120.90,188.40 121.90,188.40 122.15,187.40 122.40,188.40 124.40,188.40 124.65,187.40 124.90,188.40 126.70,188.40 126.95,187.40 127.20,188.40 129.00,188.40 129.25,187.40 129.50,188.40 131.30,188.40 131.55,187.40 131.80,188.40 133.60,188.40 133.85,187.40 134.10,188.40 135.90,188.40 136.15,187.40 136.40,188.40 138.20,188.40 138.45,187.40 138.70,188.40 140.50,188.40 140.75,187.40 141.00,188.40 142.80,188.40 143.05,187.40 143.30,188.40 145.10,188.40 145.35,187.40 145.60,188.40 147.40,188.40 147.65,187.40 147.90,188.40 149.70,188.40 149.95,187.40 150.20,188.40 152.00,188.40 152.25,187.40 152.50,188.40 154.30,188.40 154.55,187.40 154.80,188.40 156.60,188.40 156.85,187.40 157.10,188.40 158.90,188.40 159.15,187.40 159.40,188.40 161.20,188.40 161.45,187.40 161.70,188.40 163.50,188.40 163.75,187.40 164.00,188.40 165.80,188.40 166.05,187.40 166.30,188.40 168.10,188.40 168.35,187.40 168.60,188.40 170.40,188.40 170.65,187.40 170.90,188.40 173.10,188.40 173.35,187.40 173.60,188.40 175.80,188.40" fill="none" stroke="#2a2a2a" stroke-width="0.8" stroke-linejoin="round" />
<path d="M122.40,188.40 L122.55,191.00 L123.10,188.40 M124.90,188.40 L125.05,223.20 L125.60,188.40 M127.20,188.40 L127.35,221.56 L127.90,188.40 M129.50,188.40 L129.65,219.92 L130.20,188.40 M131.80,188.40 L131.95,218.28 L132.50,188.40 M134.10,188.40 L134.25,216.64 L134.80,188.40 M136.40,188.40 L136.55,214.93 L137.10,188.40 M138.70,188.40 L138.85,213.16 L139.40,188.40 M141.00,188.40 L141.15,211.40 L141.70,188.40 M143.30,188.40 L143.45,209.64 L144.00,188.40 M145.60,188.40 L145.75,207.87 L146.30,188.40 M147.90,188.40 L148.05,206.11 L148.60,188.40 M150.20,188.40 L150.35,204.39 L150.90,188.40 M152.50,188.40 L152.65,203.12 L153.20,188.40 M154.80,188.40 L154.95,201.86 L155.50,188.40 M157.10,188.40 L157.25,200.59 L157.80,188.40 M159.40,188.40 L159.55,199.33 L160.10,188.40 M161.70,188.40 L161.85,198.30 L162.40,188.40 M164.00,188.40 L164.15,197.36 L164.70,188.40 M166.30,188.40 L166.45,196.42 L167.00,188.40 M168.60,188.40 L168.75,195.48 L169.30,188.40 M170.90,188.40 L171.05,194.54 L171.60,188.40 M173.60,188.40 L173.75,191.50 L174.30,188.40 " fill="none" stroke="#5e5e5e" stroke-width="0.6" stroke-linejoin="miter"/>
<polyline points="125.50,271.80 126.21,271.57 127.20,271.27 128.38,270.90 129.63,270.48 130.87,270.01 132.00,269.50 133.03,268.95 134.04,268.37 135.03,267.73 136.02,267.04 137.01,266.30 138.00,265.50 139.00,264.63 140.00,263.70 141.00,262.72 142.00,261.69 143.00,260.61 144.00,259.50 145.00,258.33 146.00,257.07 147.00,255.78 148.00,254.48 149.00,253.21 150.00,252.00 151.00,250.84 152.00,249.69 153.00,248.56 154.00,247.48 155.00,246.46 156.00,245.50 157.00,244.63 158.00,243.83 159.00,243.09 160.00,242.39 161.00,241.70 162.00,241.00 162.99,240.30 163.96,239.60 164.94,238.92 165.93,238.26 166.94,237.61 168.00,237.00 169.19,236.38 170.52,235.76 171.88,235.15 173.15,234.60 174.23,234.14 175.00,233.80" fill="none" stroke="#333" stroke-width="0.6" stroke-linejoin="round" />
<path d="M126.00,270.60h1.8v1.8h-1.8zM127.90,270.40h1.8v1.8h-1.8zM130.80,267.10h1.8v1.8h-1.8zM133.00,268.90h1.8v1.8h-1.8zM135.20,267.80h1.8v1.8h-1.8zM137.40,265.60h1.8v1.8h-1.8zM140.00,260.80h1.8v1.8h-1.8zM142.20,259.70h1.8v1.8h-1.8zM144.40,258.40h1.8v1.8h-1.8zM146.50,253.50h1.8v1.8h-1.8zM148.70,250.90h1.8v1.8h-1.8zM150.90,250.90h1.8v1.8h-1.8zM153.10,247.60h1.8v1.8h-1.8zM155.30,244.40h1.8v1.8h-1.8zM157.50,242.20h1.8v1.8h-1.8zM159.70,240.90h1.8v1.8h-1.8zM161.90,240.90h1.8v1.8h-1.8zM164.10,237.80h1.8v1.8h-1.8zM166.20,234.90h1.8v1.8h-1.8zM168.40,236.50h1.8v1.8h-1.8zM170.60,236.50h1.8v1.8h-1.8zM173.50,233.40h1.8v1.8h-1.8z" fill="#1a1a1a"/>
<text x="149.4" y="225.3" font-size="9.0" font-weight="normal" text-anchor="start" fill="#111" >R3D12</text>
<text x="149.6" y="265.9" font-size="9.3" font-weight="normal" text-anchor="start" fill="#111" >Kd =</text>
<text x="149.6" y="273.9" font-size="9.3" font-weight="normal" text-anchor="start" fill="#111" >990 nM</text>
<text x="153.5" y="290.7" font-size="7.0" font-weight="normal" text-anchor="middle" fill="#222" class="s" >Molar ratio</text>
<rect x="210.9" y="182.6" width="66.49999999999997" height="95.50000000000003" fill="none" stroke="#8c8c8c" stroke-width="0.9" />
<line x1="210.9" y1="230.1" x2="277.4" y2="230.1" stroke="#7a7a7a" stroke-width="1.1"/>
<text x="218.4" y="181.0" font-size="4.9" font-weight="normal" text-anchor="middle" fill="#555" class="t" >0</text>
<line x1="218.4" y1="181.29999999999998" x2="218.4" y2="183.0" stroke="#777" stroke-width="0.6"/>
<text x="244" y="181.0" font-size="4.9" font-weight="normal" text-anchor="middle" fill="#555" class="t" >20</text>
<line x1="244" y1="181.29999999999998" x2="244" y2="183.0" stroke="#777" stroke-width="0.6"/>
<text x="270.1" y="181.0" font-size="4.9" font-weight="normal" text-anchor="middle" fill="#555" class="t" >40</text>
<line x1="270.1" y1="181.29999999999998" x2="270.1" y2="183.0" stroke="#777" stroke-width="0.6"/>
<text x="211.4" y="284.3" font-size="4.9" font-weight="normal" text-anchor="middle" fill="#555" class="t" >0</text>
<line x1="211.4" y1="277.70000000000005" x2="211.4" y2="279.40000000000003" stroke="#777" stroke-width="0.6"/>
<text x="255.7" y="284.3" font-size="4.9" font-weight="normal" text-anchor="middle" fill="#555" class="t" >1.0</text>
<line x1="255.7" y1="277.70000000000005" x2="255.7" y2="279.40000000000003" stroke="#777" stroke-width="0.6"/>
<line x1="231.2" y1="181.7" x2="231.2" y2="182.9" stroke="#777" stroke-width="0.5"/>
<line x1="244.0" y1="181.7" x2="244.0" y2="182.9" stroke="#777" stroke-width="0.5"/>
<line x1="256.8" y1="181.7" x2="256.8" y2="182.9" stroke="#777" stroke-width="0.5"/>
<line x1="269.6" y1="181.7" x2="269.6" y2="182.9" stroke="#777" stroke-width="0.5"/>
<line x1="233.5" y1="277.8" x2="233.5" y2="279.0" stroke="#777" stroke-width="0.5"/>
<line x1="255.7" y1="277.8" x2="255.7" y2="279.0" stroke="#777" stroke-width="0.5"/>
<text x="208.9" y="190.6" font-size="4.9" font-weight="normal" text-anchor="end" fill="#555" class="t" >0.00</text>
<line x1="209.6" y1="188.9" x2="211.3" y2="188.9" stroke="#777" stroke-width="0.6"/>
<line x1="277.0" y1="188.9" x2="278.4" y2="188.9" stroke="#777" stroke-width="0.6"/>
<text x="208.9" y="207.0" font-size="4.9" font-weight="normal" text-anchor="end" fill="#555" class="t" >-0.02</text>
<line x1="209.6" y1="205.3" x2="211.3" y2="205.3" stroke="#777" stroke-width="0.6"/>
<line x1="277.0" y1="205.3" x2="278.4" y2="205.3" stroke="#777" stroke-width="0.6"/>
<text x="208.9" y="223.29999999999998" font-size="4.9" font-weight="normal" text-anchor="end" fill="#555" class="t" >-0.04</text>
<line x1="209.6" y1="221.6" x2="211.3" y2="221.6" stroke="#777" stroke-width="0.6"/>
<line x1="277.0" y1="221.6" x2="278.4" y2="221.6" stroke="#777" stroke-width="0.6"/>
<text x="208.9" y="236.0" font-size="4.9" font-weight="normal" text-anchor="end" fill="#555" class="t" >0.0</text>
<line x1="209.6" y1="234.3" x2="211.3" y2="234.3" stroke="#777" stroke-width="0.6"/>
<line x1="277.0" y1="234.3" x2="278.4" y2="234.3" stroke="#777" stroke-width="0.6"/>
<text x="208.9" y="255.7" font-size="4.9" font-weight="normal" text-anchor="end" fill="#555" class="t" >-0.5</text>
<line x1="209.6" y1="254" x2="211.3" y2="254" stroke="#777" stroke-width="0.6"/>
<line x1="277.0" y1="254" x2="278.4" y2="254" stroke="#777" stroke-width="0.6"/>
<text x="208.9" y="274.7" font-size="4.9" font-weight="normal" text-anchor="end" fill="#555" class="t" >-1.0</text>
<line x1="209.6" y1="273" x2="211.3" y2="273" stroke="#777" stroke-width="0.6"/>
<line x1="277.0" y1="273" x2="278.4" y2="273" stroke="#777" stroke-width="0.6"/>
<polyline points="217.90,188.50 218.90,188.50 219.15,187.50 219.40,188.50 222.00,188.50 222.25,187.50 222.50,188.50 225.15,188.50 225.40,187.50 225.65,188.50 228.30,188.50 228.55,187.50 228.80,188.50 231.45,188.50 231.70,187.50 231.95,188.50 234.60,188.50 234.85,187.50 235.10,188.50 237.75,188.50 238.00,187.50 238.25,188.50 240.90,188.50 241.15,187.50 241.40,188.50 244.05,188.50 244.30,187.50 244.55,188.50 247.20,188.50 247.45,187.50 247.70,188.50 250.35,188.50 250.60,187.50 250.85,188.50 253.50,188.50 253.75,187.50 254.00,188.50 256.65,188.50 256.90,187.50 257.15,188.50 259.80,188.50 260.05,187.50 260.30,188.50 262.95,188.50 263.20,187.50 263.45,188.50 266.10,188.50 266.35,187.50 266.60,188.50 268.80,188.50" fill="none" stroke="#2a2a2a" stroke-width="0.9" stroke-linejoin="round" />
<path d="M219.40,188.50 L219.55,195.30 L220.70,188.50 M222.50,188.50 L222.65,203.30 L223.80,188.50 M225.65,188.50 L225.80,201.00 L226.95,188.50 M228.80,188.50 L228.95,200.00 L230.10,188.50 M231.95,188.50 L232.10,201.50 L233.25,188.50 M235.10,188.50 L235.25,203.00 L236.40,188.50 M238.25,188.50 L238.40,200.00 L239.55,188.50 M241.40,188.50 L241.55,199.50 L242.70,188.50 M244.55,188.50 L244.70,199.00 L245.85,188.50 M247.70,188.50 L247.85,198.50 L249.00,188.50 M250.85,188.50 L251.00,199.00 L252.15,188.50 M254.00,188.50 L254.15,198.00 L255.30,188.50 M257.15,188.50 L257.30,198.00 L258.45,188.50 M260.30,188.50 L260.45,197.50 L261.60,188.50 M263.45,188.50 L263.60,197.20 L264.75,188.50 M266.60,188.50 L266.75,197.00 L267.90,188.50 " fill="none" stroke="#4a4a4a" stroke-width="0.7" stroke-linejoin="miter"/>
<path d="M214.40,252.00h1.8v1.8h-1.8zM218.30,256.80h1.8v1.8h-1.8zM221.40,258.30h1.8v1.8h-1.8zM225.30,255.00h1.8v1.8h-1.8zM229.00,252.00h1.8v1.8h-1.8zM232.50,256.80h1.8v1.8h-1.8zM236.30,249.10h1.8v1.8h-1.8zM240.00,253.50h1.8v1.8h-1.8zM243.90,253.50h1.8v1.8h-1.8zM247.60,252.40h1.8v1.8h-1.8zM251.10,252.40h1.8v1.8h-1.8zM254.80,249.80h1.8v1.8h-1.8zM258.80,250.90h1.8v1.8h-1.8zM262.90,246.50h1.8v1.8h-1.8zM266.90,245.90h1.8v1.8h-1.8z" fill="#1a1a1a"/>
<text x="236.8" y="225.1" font-size="9.1" font-weight="normal" text-anchor="start" fill="#111" >R1/3D12</text>
<text x="238.6" y="272.6" font-size="9.3" font-weight="normal" text-anchor="start" fill="#111" >Kd = ND</text>
<text x="298.5" y="12.8" font-size="15.1" font-weight="bold" text-anchor="start" fill="#111" >B</text>
<text x="0" y="0" font-size="6.0" font-weight="normal" text-anchor="start" fill="#333" class="s" transform="translate(359.90000000000003,35.6) rotate(-90)">R2D23</text>
<text x="0" y="0" font-size="6.0" font-weight="normal" text-anchor="start" fill="#333" class="s" transform="translate(387.1,35.6) rotate(-90)">R3D2</text>
<text x="0" y="0" font-size="6.0" font-weight="normal" text-anchor="start" fill="#333" class="s" transform="translate(400.90000000000003,35.6) rotate(-90)">R3D23</text>
<text x="0" y="0" font-size="6.0" font-weight="normal" text-anchor="start" fill="#333" class="s" transform="translate(415.40000000000003,35.6) rotate(-90)">R1/3D12</text>
<text x="0" y="0" font-size="6.0" font-weight="normal" text-anchor="start" fill="#333" class="s" transform="translate(427.90000000000003,35.6) rotate(-90)">R3D1</text>
<text x="0" y="0" font-size="6.0" font-weight="normal" text-anchor="start" fill="#333" class="s" transform="translate(442.3,35.6) rotate(-90)">R3D12</text>
<text x="0" y="0" font-size="6.0" font-weight="normal" text-anchor="start" fill="#333" class="s" transform="translate(456.70000000000005,35.6) rotate(-90)">R3D123</text>
<g filter="url(#bl)">
<line x1="350.8" y1="48" x2="350.8" y2="59" stroke="#000" stroke-opacity="0.12" stroke-width="1"/>
<line x1="361.8" y1="48" x2="361.8" y2="59" stroke="#000" stroke-opacity="0.12" stroke-width="1"/>
<line x1="392.8" y1="46" x2="392.8" y2="57.5" stroke="#000" stroke-opacity="0.12" stroke-width="1"/>
<line x1="403.8" y1="46" x2="403.8" y2="57.5" stroke="#000" stroke-opacity="0.12" stroke-width="1"/>
<line x1="406.7" y1="55" x2="406.7" y2="63" stroke="#000" stroke-opacity="0.12" stroke-width="1"/>
<line x1="417.7" y1="55" x2="417.7" y2="63" stroke="#000" stroke-opacity="0.12" stroke-width="1"/>
<line x1="435.5" y1="50" x2="435.5" y2="59.3" stroke="#000" stroke-opacity="0.12" stroke-width="1"/>
<line x1="446.5" y1="50" x2="446.5" y2="59.3" stroke="#000" stroke-opacity="0.12" stroke-width="1"/>
<line x1="450.5" y1="42" x2="450.5" y2="53.7" stroke="#000" stroke-opacity="0.12" stroke-width="1"/>
<line x1="461.5" y1="42" x2="461.5" y2="53.7" stroke="#000" stroke-opacity="0.12" stroke-width="1"/>
<line x1="466.0" y1="38" x2="466.0" y2="49.5" stroke="#000" stroke-opacity="0.12" stroke-width="1"/>
<line x1="477.0" y1="38" x2="477.0" y2="49.5" stroke="#000" stroke-opacity="0.12" stroke-width="1"/>
<rect x="349.00" y="58.50" width="14.6" height="5.2" rx="2.60" fill="#363636" fill-opacity="1.0"/>
<rect x="349.80" y="72.80" width="13" height="1.0" rx="0.50" fill="#363636" fill-opacity="0.25"/>
<rect x="349.80" y="75.90" width="13" height="1.0" rx="0.50" fill="#363636" fill-opacity="0.25"/>
<rect x="349.80" y="78.80" width="13" height="1.0" rx="0.50" fill="#363636" fill-opacity="0.18"/>
<rect x="348.60" y="99.00" width="14.4" height="2.8" rx="1.40" fill="#363636" fill-opacity="0.6"/>
<rect x="376.60" y="65.50" width="13.6" height="4.2" rx="2.10" fill="#363636" fill-opacity="1.0"/>
<rect x="376.90" y="70.60" width="13" height="1.6" rx="0.80" fill="#363636" fill-opacity="0.8"/>
<rect x="376.90" y="77.00" width="13" height="2.2" rx="1.10" fill="#363636" fill-opacity="0.75"/>
<rect x="377.40" y="74.10" width="12" height="1.0" rx="0.50" fill="#363636" fill-opacity="0.35"/>
<rect x="377.40" y="81.00" width="12" height="1.0" rx="0.50" fill="#363636" fill-opacity="0.22"/>
<rect x="391.80" y="56.80" width="13.0" height="5.2" rx="2.60" fill="#363636" fill-opacity="1.0"/>
<rect x="392.30" y="71.10" width="12" height="1.4" rx="0.70" fill="#363636" fill-opacity="0.45"/>
<rect x="392.30" y="73.90" width="12" height="1.4" rx="0.70" fill="#363636" fill-opacity="0.5"/>
<rect x="392.80" y="53.00" width="11" height="1.0" rx="0.50" fill="#363636" fill-opacity="0.18"/>
<rect x="392.80" y="78.00" width="11" height="1.0" rx="0.50" fill="#363636" fill-opacity="0.22"/>
<rect x="405.20" y="62.30" width="14.0" height="5.0" rx="2.50" fill="#363636" fill-opacity="1.0"/>
<rect x="406.20" y="74.70" width="12" height="1.0" rx="0.50" fill="#363636" fill-opacity="0.18"/>
<rect x="420.20" y="66.20" width="12.8" height="5.0" rx="2.50" fill="#363636" fill-opacity="1.0"/>
<rect x="420.60" y="81.40" width="12" height="2.2" rx="1.10" fill="#363636" fill-opacity="1.0"/>
<rect x="434.30" y="58.60" width="13.4" height="5.2" rx="2.60" fill="#363636" fill-opacity="1.0"/>
<rect x="435.00" y="78.85" width="12" height="1.5" rx="0.75" fill="#363636" fill-opacity="0.6"/>
<rect x="435.00" y="99.20" width="12" height="2.4" rx="1.20" fill="#363636" fill-opacity="0.75"/>
<rect x="448.80" y="53.00" width="14.4" height="5.2" rx="2.60" fill="#363636" fill-opacity="1.0"/>
<rect x="450.50" y="73.90" width="11" height="1.0" rx="0.50" fill="#363636" fill-opacity="0.3"/>
<rect x="449.50" y="99.10" width="13" height="2.6" rx="1.30" fill="#363636" fill-opacity="0.8"/>
<rect x="465.50" y="49.30" width="10" height="1.8" rx="0.90" fill="#363636" fill-opacity="0.8"/>
<rect x="465.70" y="61.90" width="11" height="3.0" rx="1.50" fill="#363636" fill-opacity="1.0"/>
<rect x="466.20" y="69.20" width="10" height="2.4" rx="1.20" fill="#363636" fill-opacity="0.9"/>
<rect x="465.95" y="72.10" width="10.5" height="3.0" rx="1.50" fill="#363636" fill-opacity="0.95"/>
<rect x="466.30" y="85.20" width="11" height="2.6" rx="1.30" fill="#363636" fill-opacity="1.0"/>
<rect x="466.30" y="100.60" width="11" height="2.0" rx="1.00" fill="#363636" fill-opacity="1.0"/>
<rect x="466.30" y="111.90" width="11" height="2.4" rx="1.20" fill="#363636" fill-opacity="1.0"/>
</g>
<text x="480.9" y="46.2" font-size="6.4" font-weight="normal" text-anchor="start" fill="#222" class="s" >MW</text>
<text x="479.6" y="52.8" font-size="6.4" font-weight="normal" text-anchor="start" fill="#222" class="s" >(kDa)</text>
<text x="479.9" y="65.9" font-size="6.4" font-weight="normal" text-anchor="start" fill="#222" class="s" >-</text>
<text x="482.8" y="66.0" font-size="6.4" font-weight="normal" text-anchor="start" fill="#222" class="s" >66</text>
<text x="479.9" y="75.3" font-size="6.4" font-weight="normal" text-anchor="start" fill="#222" class="s" >-</text>
<text x="482.8" y="75.39999999999999" font-size="6.4" font-weight="normal" text-anchor="start" fill="#222" class="s" >43</text>
<text x="479.9" y="88.8" font-size="6.4" font-weight="normal" text-anchor="start" fill="#222" class="s" >-</text>
<text x="482.8" y="88.89999999999999" font-size="6.4" font-weight="normal" text-anchor="start" fill="#222" class="s" >30</text>
<text x="479.9" y="103.9" font-size="6.4" font-weight="normal" text-anchor="start" fill="#222" class="s" >-</text>
<text x="482.8" y="104.0" font-size="6.4" font-weight="normal" text-anchor="start" fill="#222" class="s" >20</text>
<text x="479.9" y="115.3" font-size="6.4" font-weight="normal" text-anchor="start" fill="#222" class="s" >-</text>
<text x="482.8" y="115.39999999999999" font-size="6.4" font-weight="normal" text-anchor="start" fill="#222" class="s" >14</text>
<text x="311.0" y="102.6" fill="#1a1a1a"><tspan font-size="9.4">D</tspan><tspan class="s" font-size="6.8">92-195 -</tspan></text>
<text x="344.8" y="130.5" font-size="9.3" font-weight="normal" text-anchor="start" fill="#1a1a1a" >IP: Protein A resin</text>
<text x="298.5" y="161.0" font-size="15.1" font-weight="bold" text-anchor="start" fill="#111" >D</text>
<rect x="301.6" y="167.6" width="216.0" height="114.4" fill="none" stroke="#2e2e2e" stroke-width="1.2" />
<line x1="301.6" y1="205.5" x2="517.6" y2="205.5" stroke="#2e2e2e" stroke-width="1.2"/>
<line x1="301.6" y1="225.2" x2="517.6" y2="225.2" stroke="#2e2e2e" stroke-width="1.2"/>
<line x1="301.6" y1="244.5" x2="517.6" y2="244.5" stroke="#2e2e2e" stroke-width="1.2"/>
<line x1="301.6" y1="263.0" x2="517.6" y2="263.0" stroke="#2e2e2e" stroke-width="1.2"/>
<line x1="335.0" y1="187.0" x2="517.6" y2="187.0" stroke="#2e2e2e" stroke-width="1.2"/>
<line x1="335.0" y1="167.6" x2="335.0" y2="282.0" stroke="#2e2e2e" stroke-width="1.2"/>
<line x1="362.2" y1="187.0" x2="362.2" y2="282.0" stroke="#2e2e2e" stroke-width="1.2"/>
<line x1="396.5" y1="187.0" x2="396.5" y2="282.0" stroke="#2e2e2e" stroke-width="1.2"/>
<line x1="430.6" y1="187.0" x2="430.6" y2="282.0" stroke="#2e2e2e" stroke-width="1.2"/>
<line x1="458.7" y1="187.0" x2="458.7" y2="282.0" stroke="#2e2e2e" stroke-width="1.2"/>
<line x1="486.8" y1="187.0" x2="486.8" y2="282.0" stroke="#2e2e2e" stroke-width="1.2"/>
<text x="318.3" y="188.9" font-size="6.8" font-weight="bold" text-anchor="middle" fill="#111" class="s" >ITC</text>
<text x="426.3" y="180.4" text-anchor="middle" fill="#111" font-weight="bold"><tspan font-size="8.6">VEGF-D</tspan><tspan font-size="6" dy="1.6">92-195</tspan></text>
<text x="348.6" y="198.7" font-size="6.4" font-weight="bold" text-anchor="middle" fill="#111" class="s" >R3D1</text>
<text x="379.35" y="198.7" font-size="6.4" font-weight="bold" text-anchor="middle" fill="#111" class="s" >R3D12</text>
<text x="413.55" y="198.7" font-size="6.4" font-weight="bold" text-anchor="middle" fill="#111" class="s" >R3D1-3</text>
<text x="444.65" y="198.7" font-size="6.4" font-weight="bold" text-anchor="middle" fill="#111" class="s" >R3D2</text>
<text x="472.75" y="198.7" font-size="6.4" font-weight="bold" text-anchor="middle" fill="#111" class="s" >R3D23</text>
<text x="502.2" y="198.7" font-size="6.4" font-weight="bold" text-anchor="middle" fill="#111" class="s" >R1/3D12</text>
<text x="318.3" y="214.3" font-size="5.6" font-weight="bold" text-anchor="middle" fill="#111" class="s" >ΔH</text>
<text x="318.3" y="220.5" font-size="5.8" font-weight="bold" text-anchor="middle" fill="#111" class="s" >(kcal/mol)</text>
<text x="318.3" y="233.6" font-size="5.6" font-weight="bold" text-anchor="middle" fill="#111" class="s" >ΔS</text>
<text x="318.3" y="239.6" font-size="5.8" font-weight="bold" text-anchor="middle" fill="#111" class="s" >(cal/molK)</text>
<text x="318.3" y="256.1" text-anchor="middle" fill="#111" font-weight="bold" font-size="5.8">K<tspan font-size="4" dy="1">D</tspan><tspan dy="-1"> (nM)</tspan></text>
<text x="318.3" y="274.59" font-size="5.8" font-weight="bold" text-anchor="middle" fill="#111" class="s" >n</text>
<text x="379.35" y="217.44" font-size="5.8" font-weight="bold" text-anchor="middle" fill="#111" class="s" >-1.2 ± 0.04</text>
<text x="413.55" y="217.44" font-size="5.8" font-weight="bold" text-anchor="middle" fill="#111" class="s" >-5.0 ± 0.26</text>
<text x="379.35" y="236.94" font-size="5.8" font-weight="bold" text-anchor="middle" fill="#111" class="s" >23.5</text>
<text x="413.55" y="236.94" font-size="5.8" font-weight="bold" text-anchor="middle" fill="#111" class="s" >12.8</text>
<text x="348.6" y="255.62" font-size="5.2" font-weight="bold" text-anchor="middle" fill="#111" class="s" >ND</text>
<text x="379.35" y="255.84" font-size="5.8" font-weight="bold" text-anchor="middle" fill="#111" class="s" >990 ± 160</text>
<text x="413.55" y="255.84" font-size="5.8" font-weight="bold" text-anchor="middle" fill="#111" class="s" >350 ± 75</text>
<text x="444.65" y="255.62" font-size="5.2" font-weight="bold" text-anchor="middle" fill="#111" class="s" >ND</text>
<text x="472.75" y="255.62" font-size="5.2" font-weight="bold" text-anchor="middle" fill="#111" class="s" >ND</text>
<text x="502.2" y="255.62" font-size="5.2" font-weight="bold" text-anchor="middle" fill="#111" class="s" >ND</text>
<text x="379.35" y="274.59" font-size="5.8" font-weight="bold" text-anchor="middle" fill="#111" class="s" >0.93 ± 0.02</text>
<text x="413.55" y="274.59" font-size="5.8" font-weight="bold" text-anchor="middle" fill="#111" class="s" >0.74 ± 0.03</text>
</g>
</svg>
</body></html>
